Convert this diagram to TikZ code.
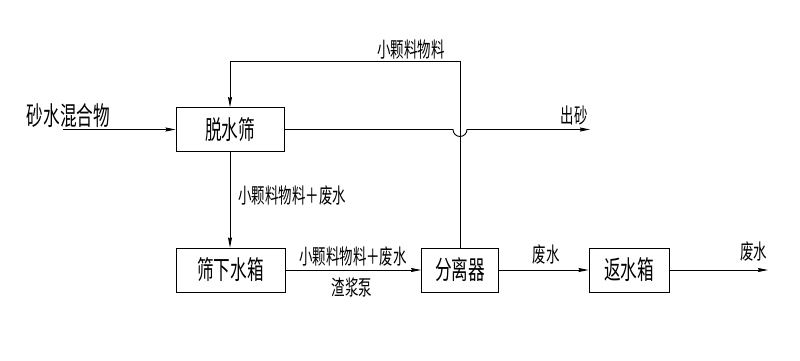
\documentclass[tikz,border=0pt]{standalone}
\usepackage{fontspec}
\newfontfamily\cjk[FakeStretch=0.64]{Noto Sans CJK SC}
\usetikzlibrary{arrows.meta}
\begin{document}
\begin{tikzpicture}[x=1pt,y=-1pt,line width=0.9pt,
  box/.style={draw, minimum height=44pt, inner sep=0pt, font=\cjk\fontsize{26}{26}\selectfont},
  big/.style={inner sep=0pt, font=\cjk\fontsize{26}{26}\selectfont},
  lbl/.style={inner sep=0pt, font=\cjk\fontsize{21}{21}\selectfont},
  arr/.style={-{Stealth[length=10pt,width=4pt,inset=1pt]}}]
\useasboundingbox (0,0) rectangle (800,361);
% boxes
\node[box,minimum width=108pt] (tsf) at (230,129.5) {脱水筛};
\node[box,minimum width=109pt] (sxsx) at (230.5,270) {筛下水箱};
\node[box,minimum width=77pt] (flq) at (460,270) {分离器};
\node[box,minimum width=80pt] (fsx) at (629,270) {返水箱};
% free ends
\coordinate (in) at (63,129.5);
\coordinate (fb) at (460,61);
\coordinate (jl) at (453,129.5);
\coordinate (out1) at (590,129.5);
\coordinate (out2) at (768,270);
% connectors
\draw[arr] (in) -- (tsf.west);
\draw[arr] (flq.north) -- (fb) -| (tsf.north);
\draw[arr] (tsf.east) -- (jl) arc[start angle=180,end angle=360,radius=7pt] -- (out1);
\draw[arr] (tsf.south) -- (tsf.south |- sxsx.north);
\draw[arr] (sxsx.east) -- (flq.west);
\draw[arr] (flq.east) -- (fsx.west);
\draw[arr] (fsx.east) -- (out2);
% texts
\node[big] (t1) at (68.5,115.5) {砂水混合物};
\node[lbl] (t2) at (411,49.5) {小颗料物料};
\node[lbl] (t3) at (574,115.5) {出砂};
\node[lbl,anchor=west] (t4) at (238,196) {小颗料物料＋废水};
\node[lbl] (t5) at (353,256.5) {小颗料物料＋废水};
\node[lbl] (t6) at (352,287) {渣浆泵};
\node[lbl] (t7) at (546,254.5) {废水};
\node[lbl] (t8) at (753.5,252) {废水};
\end{tikzpicture}
\end{document}
